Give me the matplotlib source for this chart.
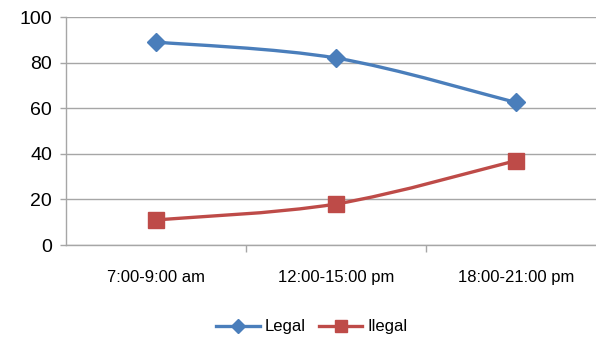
import matplotlib
matplotlib.use("Agg")
import matplotlib.pyplot as plt
from matplotlib.path import Path
from matplotlib.patches import PathPatch
from matplotlib.lines import Line2D
import numpy as np

plt.rcParams['font.family'] = ['Liberation Sans', 'DejaVu Sans']

categories = ["7:00-9:00 am", "12:00-15:00 pm", "18:00-21:00 pm"]
legal = [89, 82, 62.5]
illegal = [11, 18, 37]
y_ticks = [0, 20, 40, 60, 80, 100]

blue = "#4A7EBB"
red = "#BE4B48"
grid_c = "#A6A6A6"


def smooth_path(xs, ys):
    pts = np.column_stack([xs, ys]).astype(float)
    n = len(pts)
    verts = [pts[0]]
    codes = [Path.MOVETO]
    for i in range(n - 1):
        p0 = pts[max(i - 1, 0)]
        p1 = pts[i]
        p2 = pts[i + 1]
        p3 = pts[min(i + 2, n - 1)]
        c1 = p1 + (p2 - p0) / 6.0
        c2 = p2 - (p3 - p1) / 6.0
        verts += [c1, c2, p2]
        codes += [Path.CURVE4] * 3
    return Path(verts, codes)


fig = plt.figure(figsize=(5.96, 3.37), dpi=100)
ax = fig.add_axes([66 / 596, 92 / 337, 540 / 596, 228 / 337])

x = np.arange(len(categories))
for vals, col, mk, ms in [(legal, blue, "D", 9), (illegal, red, "s", 11)]:
    ax.add_patch(PathPatch(smooth_path(x, vals), facecolor="none",
                           edgecolor=col, lw=2.4, zorder=3))
    ax.plot(x, vals, linestyle="none", marker=mk, markersize=ms,
            color=col, markeredgecolor=col, zorder=4)

ax.set_xlim(-0.5, 2.5)
ax.set_ylim(0, 100)
ax.set_yticks(y_ticks)
ax.yaxis.grid(True, color=grid_c, lw=1)
ax.set_axisbelow(True)

ax.set_xticks(x)
ax.set_xticklabels(categories, fontsize=12)
ax.set_xticks([0.5, 1.5], minor=True)
ax.tick_params(axis="x", which="major", length=0, pad=18)
ax.tick_params(axis="x", which="minor", length=5, color=grid_c, width=1)
ax.tick_params(axis="y", length=4, color=grid_c, width=1, labelsize=14, pad=6)

for s in ["top", "right"]:
    ax.spines[s].set_visible(False)
for s in ["left", "bottom"]:
    ax.spines[s].set_color(grid_c)
    ax.spines[s].set_linewidth(1)

handles = [
    Line2D([], [], color=blue, lw=2.4, marker="D", markersize=7),
    Line2D([], [], color=red, lw=2.4, marker="s", markersize=9),
]
fig.legend(handles, ["Legal", "Ilegal"], loc="center", ncol=2,
           bbox_to_anchor=(312 / 596, 1 - 327 / 337), frameon=False,
           fontsize=12, handlelength=2.6, handletextpad=0.3, columnspacing=0.8)

fig.savefig("out.png", dpi=100)
